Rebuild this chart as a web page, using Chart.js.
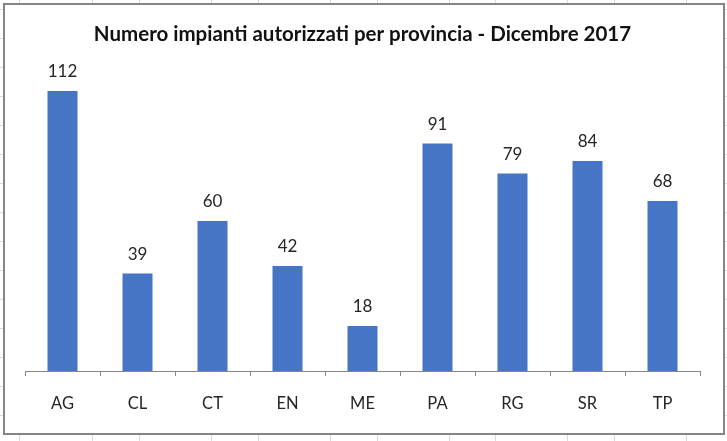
<!DOCTYPE html>
<html>
<head>
<meta charset="utf-8">
<script src="https://cdn.jsdelivr.net/npm/chart.js@4.4.1/dist/chart.umd.min.js"></script>
<style>
  html, body { margin: 0; padding: 0; background: #ffffff; }
  #wrap { position: relative; width: 727px; height: 441px; }
  canvas { display: block; }
</style>
</head>
<body>
<div id="wrap"><canvas id="c" width="727" height="441"></canvas></div>
<script>
const chartTitle = 'Numero impianti autorizzati per provincia - Dicembre 2017';
const categories = ['AG', 'CL', 'CT', 'EN', 'ME', 'PA', 'RG', 'SR', 'TP'];
const impianti = [112, 39, 60, 42, 18, 91, 79, 84, 68];
const yMin = 0;
const yMax = 120;

const FONT = 'Lato, "Open Sans", sans-serif';

const sheetBackground = {
  id: 'sheetBackground',
  beforeDraw(chart) {
    const ctx = chart.ctx;
    const W = chart.width, H = chart.height;
    ctx.save();
    ctx.fillStyle = '#ffffff';
    ctx.fillRect(0, 0, W, H);
    ctx.strokeStyle = '#dadada';
    ctx.lineWidth = 1;
    const vx = [19, 92, 139, 211, 258, 330, 377, 449, 495, 567, 614, 686];
    vx.forEach(x => { ctx.beginPath(); ctx.moveTo(x + 0.5, 0); ctx.lineTo(x + 0.5, H); ctx.stroke(); });
    for (let y = 9; y < H; y += 29) {
      ctx.beginPath(); ctx.moveTo(0, y + 0.5); ctx.lineTo(W, y + 0.5); ctx.stroke();
    }
    ctx.fillStyle = '#ffffff';
    ctx.fillRect(4, 4, 720, 430);
    ctx.strokeStyle = '#858585';
    ctx.lineWidth = 2;
    ctx.strokeRect(4, 4, 720, 430);
    ctx.restore();
  }
};

const valueLabels = {
  id: 'valueLabels',
  afterDatasetsDraw(chart) {
    const ctx = chart.ctx;
    const meta = chart.getDatasetMeta(0);
    ctx.save();
    ctx.font = '17px ' + FONT;
    ctx.fillStyle = '#262626';
    ctx.textAlign = 'center';
    ctx.textBaseline = 'alphabetic';
    meta.data.forEach((bar, i) => {
      ctx.fillText(String(chart.data.datasets[0].data[i]), bar.x, bar.y - 14);
    });
    ctx.restore();
  }
};

new Chart(document.getElementById('c'), {
  type: 'bar',
  data: {
    labels: categories,
    datasets: [{
      label: 'Impianti',
      data: impianti,
      backgroundColor: '#4775c5',
      borderWidth: 0,
      categoryPercentage: 0.8,
      barPercentage: 0.5
    }]
  },
  options: {
    responsive: false,
    animation: false,
    devicePixelRatio: 1,
    layout: { padding: { left: 25, right: 27, top: 0, bottom: 10 } },
    plugins: {
      legend: { display: false },
      tooltip: { enabled: false },
      title: {
        display: true,
        text: chartTitle,
        color: '#111111',
        font: { family: FONT, size: 20.5, weight: 'bold', lineHeight: 1.2 },
        padding: { top: 21.7, bottom: 24.7 }
      }
    },
    scales: {
      x: {
        offset: true,
        grid: {
          display: true,
          offset: true,
          drawOnChartArea: false,
          drawTicks: true,
          tickLength: 5,
          color: '#868686',
          lineWidth: 1
        },
        border: { display: true, color: '#868686', width: 1 },
        ticks: {
          color: '#262626',
          font: { family: FONT, size: 16.5 },
          padding: 18
        },
        afterFit(scale) { scale.height = 60; }
      },
      y: {
        display: false,
        min: yMin,
        max: yMax
      }
    }
  },
  plugins: [sheetBackground, valueLabels]
});
</script>
</body>
</html>
